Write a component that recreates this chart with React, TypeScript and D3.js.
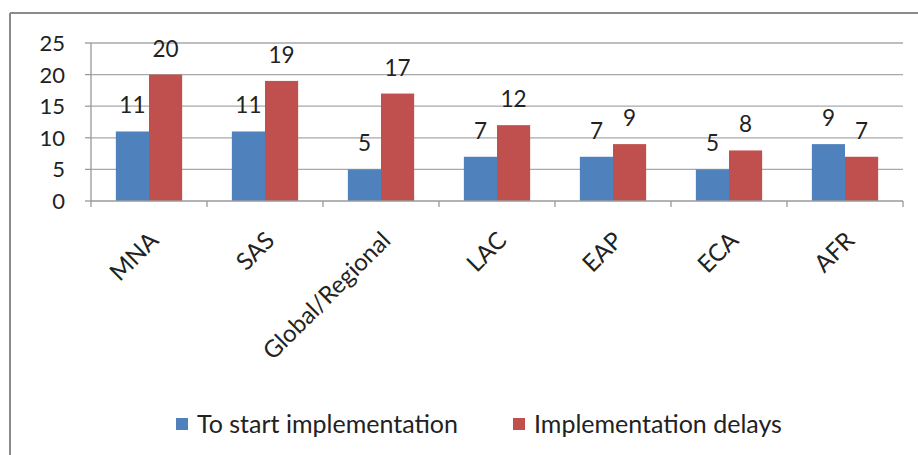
import React from "react";
import * as d3 from "d3";

// Region codes along the x axis
const categories = ["MNA", "SAS", "Global/Regional", "LAC", "EAP", "ECA", "AFR"];
const seriesNames = ["To start implementation", "Implementation delays"];
const toStart = [11, 11, 5, 7, 7, 5, 9];
const delays = [20, 19, 17, 12, 9, 8, 7];
const yTicks = [0, 5, 10, 15, 20, 25];
const colors = ["#4f81bd", "#c0504d"];

const W = 918;
const H = 455;
const FONT = "Lato, 'Liberation Sans', sans-serif";

export default function App() {
  const plot = { left: 91, right: 903, top: 43, bottom: 201 };
  const x0 = d3.scaleBand<string>().domain(categories).range([plot.left, plot.right]);
  const x1 = d3
    .scaleBand<string>()
    .domain(seriesNames)
    .range([0, x0.bandwidth()])
    .paddingInner(0)
    .paddingOuter(0.75);
  const y = d3.scaleLinear().domain([0, 25]).range([plot.bottom, plot.top]);
  const values = [toStart, delays];

  const boundaries = categories.map((c) => x0(c) as number).concat([plot.right]);

  return (
    <svg
      width={W}
      height={H}
      style={{ position: "absolute", left: 0, top: 0, background: "#fff" }}
      fontFamily={FONT}
    >
      {/* chart frame */}
      <line x1={10} y1={13} x2={W} y2={13} stroke="#8a8a8a" strokeWidth={2} />
      <line x1={10} y1={13} x2={10} y2={H} stroke="#8a8a8a" strokeWidth={2} />

      {/* gridlines */}
      {yTicks.slice(1).map((t) => (
        <line key={t} x1={plot.left} x2={plot.right} y1={y(t)} y2={y(t)} stroke="#a8a8a8" strokeWidth={1.3} />
      ))}

      {/* y axis */}
      <line x1={plot.left} x2={plot.left} y1={plot.top} y2={plot.bottom} stroke="#9a9a9a" strokeWidth={1.3} />
      {yTicks.map((t) => (
        <g key={t}>
          <line x1={plot.left - 6} x2={plot.left} y1={y(t)} y2={y(t)} stroke="#9a9a9a" strokeWidth={1.3} />
          <text x={65} y={y(t)} dy="0.36em" textAnchor="end" fontSize={22} fill="#222">
            {t}
          </text>
        </g>
      ))}

      {/* bars */}
      {categories.map((c, i) => (
        <g key={c} transform={`translate(${x0(c)},0)`}>
          {seriesNames.map((s, k) => {
            const v = values[k][i];
            const bx = x1(s) as number;
            return (
              <g key={s}>
                <rect x={bx} y={y(v)} width={x1.bandwidth()} height={y(0) - y(v)} fill={colors[k]} />
                <text
                  x={bx + x1.bandwidth() / 2}
                  y={y(v) - 18}
                  textAnchor="middle"
                  fontSize={22.5}
                  fill="#222"
                >
                  {v}
                </text>
              </g>
            );
          })}
        </g>
      ))}

      {/* x axis */}
      <line x1={plot.left} x2={plot.right} y1={plot.bottom} y2={plot.bottom} stroke="#9a9a9a" strokeWidth={1.3} />
      {boundaries.map((bx, i) => (
        <line key={i} x1={bx} x2={bx} y1={plot.bottom} y2={plot.bottom + 6} stroke="#9a9a9a" strokeWidth={1.3} />
      ))}
      {categories.map((c) => {
        const cx = (x0(c) as number) + x0.bandwidth() / 2;
        const ax = cx + 11;
        const ay = plot.bottom + 41;
        return (
          <text
            key={c}
            x={ax}
            y={ay}
            textAnchor="end"
            fontSize={24}
            fill="#222"
            transform={`rotate(-45 ${ax} ${ay})`}
          >
            {c}
          </text>
        );
      })}

      {/* legend */}
      {seriesNames.map((s, k) => {
        const lx = [176, 513][k];
        return (
          <g key={s}>
            <rect x={lx} y={418} width={12} height={12} fill={colors[k]} />
            <text x={lx + 21} y={424} dy="0.36em" fontSize={25} fill="#222">
              {s}
            </text>
          </g>
        );
      })}
    </svg>
  );
}
